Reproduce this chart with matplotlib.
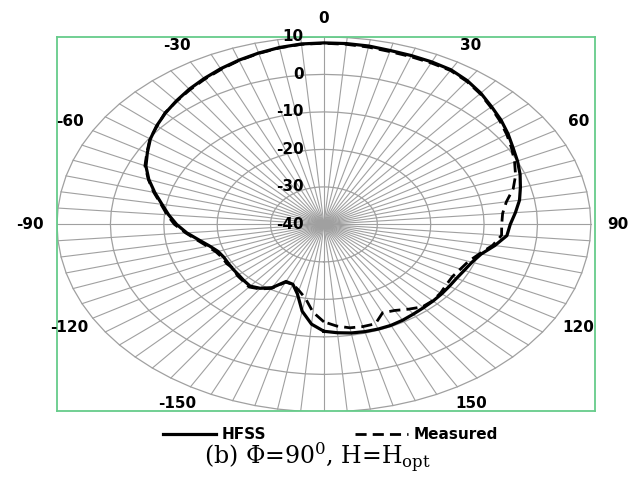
import numpy as np
import matplotlib
matplotlib.use('Agg')
import matplotlib.pyplot as plt
from matplotlib.lines import Line2D

plt.rcParams['mathtext.fontset'] = 'dejavuserif'

# 角度类别 (度), 每5度一个
angles = list(range(-180, 180, 5))

# HFSS 仿真 (dB)
hfss = [-11.5, -13.3, -16.5, -20.8, -23.0, -23.2, -20.5, -19.2, -18.5, -18.8,
        -19.1, -19.2, -19.3, -19.3, -18.9, -17.8, -16.2, -14.2, -12.4, -10.8,
        -9.2, -7.2, -5.1, -3.2, -1.8, -0.3, 0.9, 2.0, 3.0, 4.0,
        4.9, 5.8, 6.6, 7.3, 7.9, 8.3, 8.4, 8.4, 8.3, 8.0,
        7.9, 7.8, 7.6, 6.8, 5.7, 4.4, 3.3, 2.1, 0.9, 0.0,
        -0.9, -1.9, -2.8, -4.0, -5.1, -5.6, -7.5, -9.5, -10.5, -11.0,
        -11.3, -11.3, -11.2, -11.1, -11.0, -10.8, -10.5, -10.3, -10.3, -10.4,
        -10.6, -11.0]

# 实测 (dB)
measured = [-14.0, -16.5, -20.0, -21.8, -23.0, -23.0, -20.3, -19.0, -18.2, -18.6,
            -18.8, -19.4, -19.0, -19.0, -18.5, -17.4, -15.9, -14.0, -12.0, -10.5,
            -9.0, -7.0, -5.0, -3.0, -1.7, -0.2, 0.8, 2.1, 2.9, 3.8,
            4.7, 5.6, 6.5, 7.2, 7.8, 8.2, 8.3, 8.2, 8.0, 7.7,
            7.6, 7.5, 7.4, 6.6, 5.5, 4.2, 3.0, 1.8, 0.6, -0.6,
            -1.8, -3.3, -5.3, -6.4, -6.7, -6.6, -7.9, -9.8, -11.2, -11.8,
            -12.2, -12.0, -11.5, -11.2, -11.3, -12.4, -13.5, -14.0, -11.8, -11.8,
            -12.0, -12.8]

r_ticks = [-40, -30, -20, -10, 0, 10]
angle_labels = [0, 30, 60, 90, 120, 150, -150, -120, -90, -60, -30]

r_min, r_max = -40, 10


def to_xy(theta_deg, db):
    th = np.radians(np.asarray(theta_deg, dtype=float))
    rho = (np.asarray(db, dtype=float) - r_min) / (r_max - r_min)
    return rho * np.sin(th), rho * np.cos(th)


fig = plt.figure(figsize=(6.35, 4.79), dpi=100)
ax = fig.add_axes([0.0898, 0.142, 0.847, 0.781])
ax.set_xlim(-1.0, 1.015)
ax.set_ylim(-0.995, 1.0)
ax.set_xticks([])
ax.set_yticks([])
for s in ax.spines.values():
    s.set_color('#66cc8a')
    s.set_linewidth(1.3)

grid_c = '#a0a0a0'
# 辐射线
for a in angles:
    x, y = to_xy([a, a], [r_min, r_max])
    ax.plot(x, y, color=grid_c, lw=0.8, zorder=1)
# 同心环
ring_ang = angles + [angles[0]]
for rt in r_ticks[1:]:
    x, y = to_xy(ring_ang, [rt] * len(ring_ang))
    ax.plot(x, y, color=grid_c, lw=0.9, zorder=1)

# 径向刻度
for rt in r_ticks:
    x, y = to_xy(0, rt)
    ax.text(x - 0.075, y, str(rt), ha='right', va='center', fontsize=11,
            fontweight='bold', color='black', zorder=5)

# 角度标签
for al in angle_labels:
    th = np.radians(al)
    ax.text(1.1 * np.sin(th), 1.1 * np.cos(th), str(al), ha='center', va='center',
            fontsize=11, fontweight='bold', clip_on=False)

# 曲线
x, y = to_xy(angles + [angles[0]], hfss + [hfss[0]])
ax.plot(x, y, color='black', lw=2.3, zorder=4, solid_joinstyle='round')
x, y = to_xy(angles + [angles[0]], measured + [measured[0]])
ax.plot(x, y, color='black', lw=2.0, dashes=(4, 2.2), zorder=3)

handles = [Line2D([], [], color='black', lw=2.3),
           Line2D([], [], color='black', lw=2.0, dashes=(4, 2.2))]
fig.legend(handles, ['HFSS', 'Measured'], loc='center', bbox_to_anchor=(0.52, 0.092),
           ncol=2, frameon=False, handlelength=3.5, handletextpad=0.35, columnspacing=5.8,
           prop={'weight': 'bold', 'size': 11})

fig.text(0.5, 0.044, r'(b) Φ=90$^{0}$, H=H$_{\mathrm{opt}}$', ha='center', va='center',
         fontsize=17, family='DejaVu Serif')

fig.savefig('out.png', dpi=100)
